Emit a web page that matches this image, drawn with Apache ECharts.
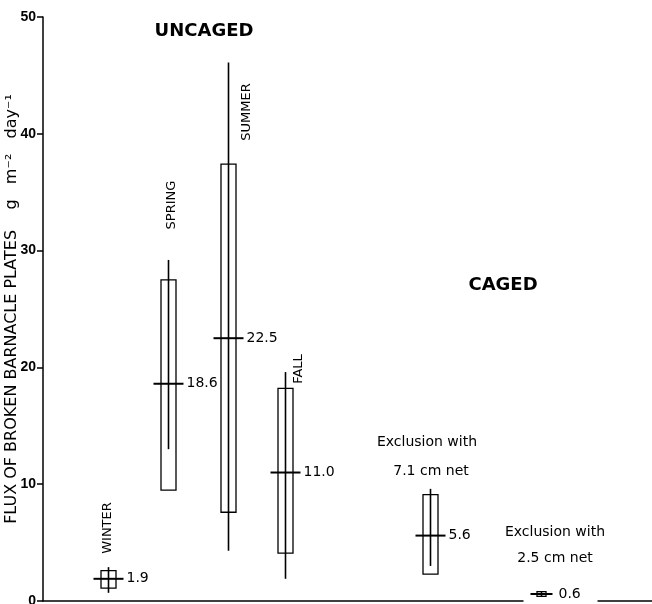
<!DOCTYPE html>
<html><head><meta charset="utf-8">
<script src="https://cdn.jsdelivr.net/npm/echarts@6/dist/echarts.min.js"></script>
<style>html,body{margin:0;padding:0;background:#fff}#c{width:652px;height:604px}</style>
</head><body><div id="c"></div>
<script>
// Data
const groups = ['WINTER', 'SPRING', 'SUMMER', 'FALL', 'Exclusion with 7.1 cm net', 'Exclusion with 2.5 cm net'];
const xPos = [10.7, 20.6, 30.3, 39.7, 63.5, 81.8];
const medians = [1.9, 18.6, 22.5, 11.0, 5.6, 0.6];
const boxLow = [1.1, 9.5, 7.6, 4.1, 2.3, 0.4];
const boxHigh = [2.6, 27.5, 37.4, 18.2, 9.1, 0.8];
const lineLow = [0.7, 13.0, 4.3, 1.9, 3.0, 0.4];
const lineHigh = [2.9, 29.2, 46.1, 19.6, 9.6, 0.8];
const yTicks = [0, 10, 20, 30, 40, 50];

const FONT = '"DejaVu Sans", "Liberation Sans", sans-serif';
const chart = echarts.init(document.getElementById('c'), null, {renderer: 'canvas'});

function renderItem(params, api) {
  const i = params.dataIndex;
  const x = api.value(0);
  const c = api.coord([x, api.value(1)]);
  const lo = api.coord([x, api.value(2)]);
  const hi = api.coord([x, api.value(3)]);
  const wl = api.coord([x, api.value(4)]);
  const wh = api.coord([x, api.value(5)]);
  const small = (i === 5);
  const bw = small ? 9 : 15;
  const th = small ? 11 : 15;
  const cx = Math.round(c[0]) + 0.5;
  const axisY = params.coordSys.y + params.coordSys.height;
  const children = [];
  if (c[1] + 10 > axisY) {
    children.push({type: 'rect', shape: {x: cx - th - 7, y: axisY - 4, width: 2 * th + 14 + 38, height: 8}, style: {fill: '#fff'}});
  }
  children.push({type: 'rect', shape: {x: cx - bw / 2, y: hi[1], width: bw, height: lo[1] - hi[1]}, style: {fill: 'none', stroke: '#000', lineWidth: 1.3}});
  children.push({type: 'line', shape: {x1: cx, y1: wl[1], x2: cx, y2: wh[1]}, style: {stroke: '#000', lineWidth: 1.6}});
  children.push({type: 'line', shape: {x1: cx - th, y1: c[1], x2: cx + th, y2: c[1]}, style: {stroke: '#000', lineWidth: 2}});
  children.push({type: 'text', style: {text: api.value(1).toFixed(1), x: cx + th + (small ? 6 : 3), y: c[1], align: 'left', verticalAlign: 'middle', textAlign: 'left', textVerticalAlign: 'middle', fontSize: 14, fontFamily: FONT, fill: '#000'}});
  return {type: 'group', children};
}

function vtext(txt, x, y) {
  return {type: 'text', x: x, y: y, rotation: Math.PI / 2, style: {text: txt, fontSize: 13, fontFamily: FONT, fill: '#000', align: 'center', verticalAlign: 'middle', textAlign: 'center', textVerticalAlign: 'middle'}};
}
function htext(txt, x, y, size, weight) {
  return {type: 'text', x: x, y: y, style: {text: txt, fontSize: size, fontWeight: weight || 'normal', fontFamily: FONT, fill: '#000', align: 'center', verticalAlign: 'middle', textAlign: 'center', textVerticalAlign: 'middle'}};
}

chart.setOption({
  animation: false,
  backgroundColor: '#fff',
  grid: {left: 43, right: 0, top: 17, bottom: 3, containLabel: false, outerBoundsMode: 'none'},
  xAxis: {
    type: 'value', min: 0, max: 100,
    axisLine: {show: true, lineStyle: {color: '#000', width: 1.5}},
    axisTick: {show: false}, axisLabel: {show: false}, splitLine: {show: false}
  },
  yAxis: {
    type: 'value', min: yTicks[0], max: yTicks[yTicks.length - 1], interval: 10,
    axisLine: {show: true, lineStyle: {color: '#000', width: 1.5}},
    axisTick: {show: true, length: 6, lineStyle: {color: '#000', width: 1.5}},
    axisLabel: {margin: 7, color: '#000', fontSize: 14, fontWeight: 'bold', fontFamily: '"Liberation Sans", Arial, sans-serif'},
    splitLine: {show: false},
    name: 'FLUX OF BROKEN BARNACLE PLATES    g   m\u207B\u00B2   day\u207B\u00B9',
    nameLocation: 'middle', nameRotate: 90, nameGap: 23, nameMoveOverlap: false,
    nameTextStyle: {color: '#000', fontSize: 16, fontFamily: FONT}
  },
  graphic: [
    htext('UNCAGED', 204, 31, 18, 'bold'),
    htext('CAGED', 503, 285, 18, 'bold'),
    vtext('WINTER', 108, 528),
    vtext('SPRING', 172, 205),
    vtext('SUMMER', 247, 112),
    vtext('FALL', 299, 369),
    htext('Exclusion with', 427, 442, 14),
    htext('7.1 cm net', 431, 471, 14),
    htext('Exclusion with', 555, 532, 14),
    htext('2.5 cm net', 555, 558, 14)
  ],
  series: [{
    type: 'custom',
    renderItem: renderItem,
    clip: false,
    encode: {x: 0, y: [1, 2, 3, 4, 5]},
    data: groups.map((g, i) => [xPos[i], medians[i], boxLow[i], boxHigh[i], lineLow[i], lineHigh[i]])
  }]
});
</script>
</body></html>
